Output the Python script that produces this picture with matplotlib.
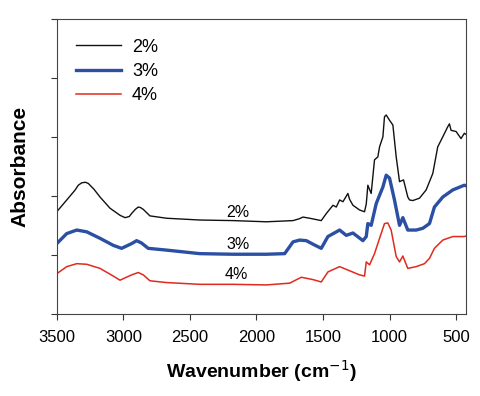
import matplotlib.pyplot as plt

plt.rcParams['font.family'] = ['Liberation Sans', 'DejaVu Sans']

wn_2 = [3500, 3425, 3365, 3338, 3313, 3285, 3263, 3220, 3175, 3100, 3025, 2987,
        2955, 2938, 2910, 2888, 2870, 2850, 2800, 2675, 2425, 2175, 1925, 1725,
        1680, 1650, 1600, 1513, 1475, 1425, 1400, 1375, 1350, 1313, 1300, 1275,
        1225, 1188, 1175, 1163, 1138, 1113, 1088, 1075, 1050, 1038, 1025, 1000,
        975, 950, 925, 895, 863, 850, 825, 775, 725, 675, 638, 600, 563, 550,
        538, 500, 463, 438, 425]
abs_2 = [1.74, 1.94, 2.10, 2.19, 2.23, 2.24, 2.22, 2.12, 1.99, 1.80, 1.68, 1.64,
         1.66, 1.71, 1.78, 1.82, 1.81, 1.78, 1.67, 1.63, 1.60, 1.59, 1.57, 1.59,
         1.62, 1.65, 1.63, 1.59, 1.71, 1.85, 1.82, 1.94, 1.91, 2.05, 1.95, 1.85,
         1.77, 1.74, 1.87, 2.19, 2.05, 2.62, 2.67, 2.84, 3.01, 3.35, 3.38, 3.29,
         3.21, 2.67, 2.25, 2.28, 1.99, 1.94, 1.93, 1.97, 2.11, 2.39, 2.84, 3.01,
         3.18, 3.23, 3.12, 3.10, 2.98, 3.07, 3.05]

wn_3 = [3500, 3425, 3350, 3275, 3175, 3075, 3013, 2938, 2900, 2863, 2813, 2675,
        2425, 2175, 1925, 1788, 1750, 1725, 1675, 1625, 1575, 1513, 1463, 1375,
        1325, 1275, 1200, 1175, 1163, 1138, 1100, 1050, 1025, 1000, 963, 925,
        900, 863, 800, 750, 700, 663, 600, 525, 438, 425]
abs_3 = [1.20, 1.37, 1.43, 1.40, 1.29, 1.17, 1.12, 1.20, 1.25, 1.21, 1.12, 1.09,
         1.03, 1.02, 1.02, 1.03, 1.15, 1.23, 1.26, 1.25, 1.19, 1.12, 1.32, 1.43,
         1.34, 1.38, 1.25, 1.32, 1.54, 1.51, 1.88, 2.16, 2.36, 2.31, 1.94, 1.51,
         1.64, 1.43, 1.43, 1.46, 1.54, 1.82, 1.99, 2.11, 2.19, 2.18]

wn_4 = [3500, 3425, 3350, 3275, 3175, 3075, 3025, 2938, 2888, 2850, 2800, 2675,
        2425, 2175, 1925, 1750, 1663, 1575, 1513, 1463, 1375, 1300, 1225, 1188,
        1175, 1150, 1113, 1075, 1038, 1013, 988, 950, 925, 900, 863, 800, 738,
        700, 663, 600, 525, 438, 425]
abs_4 = [0.69, 0.81, 0.86, 0.85, 0.78, 0.65, 0.58, 0.67, 0.71, 0.67, 0.57, 0.54,
         0.51, 0.51, 0.50, 0.53, 0.63, 0.59, 0.55, 0.72, 0.81, 0.74, 0.67, 0.65,
         0.89, 0.84, 1.03, 1.29, 1.54, 1.55, 1.43, 0.98, 0.89, 0.99, 0.78, 0.81,
         0.86, 0.95, 1.12, 1.26, 1.32, 1.32, 1.33]

labels = ['2%', '3%', '4%']
colors = ['#111111', '#2a4fa3', '#e02a1e']

fig = plt.figure(figsize=(4.81, 3.96), dpi=100)
ax = fig.add_axes([0.118, 0.206, 0.851, 0.745])

ax.plot(wn_2, abs_2, color=colors[0], lw=1.0, label=labels[0])
ax.plot(wn_3, abs_3, color=colors[1], lw=2.4, label=labels[1])
ax.plot(wn_4, abs_4, color=colors[2], lw=1.1, label=labels[2])

# curve labels
ax.text(2140, 1.72, '2%', fontsize=11.5, ha='center', va='center')
ax.text(2140, 1.19, '3%', fontsize=11.5, ha='center', va='center')
ax.text(2150, 0.68, '4%', fontsize=11.5, ha='center', va='center')

ax.set_xlim(3500, 425)
ax.set_ylim(0, 5)
ax.set_xticks([3500, 3000, 2500, 2000, 1500, 1000, 500])
ax.set_yticks([0, 1, 2, 3, 4, 5])
ax.set_yticklabels([])
ax.tick_params(direction='out', length=4.5, width=0.8, labelsize=12, colors='#333333',
               labelcolor='black', pad=7)
for s in ax.spines.values():
    s.set_color('#444444')
    s.set_linewidth(0.8)

ax.set_xlabel('Wavenumber (cm$^{-1}$)', fontsize=14, fontweight='bold', labelpad=9)
ax.set_ylabel('Absorbance', fontsize=15, fontweight='bold', labelpad=8)

ax.legend(loc='upper left', bbox_to_anchor=(0.025, 0.965), frameon=False,
          fontsize=13, handlelength=2.5, labelspacing=0.4, borderpad=0,
          handletextpad=0.6)

fig.savefig('out.png', dpi=100)
